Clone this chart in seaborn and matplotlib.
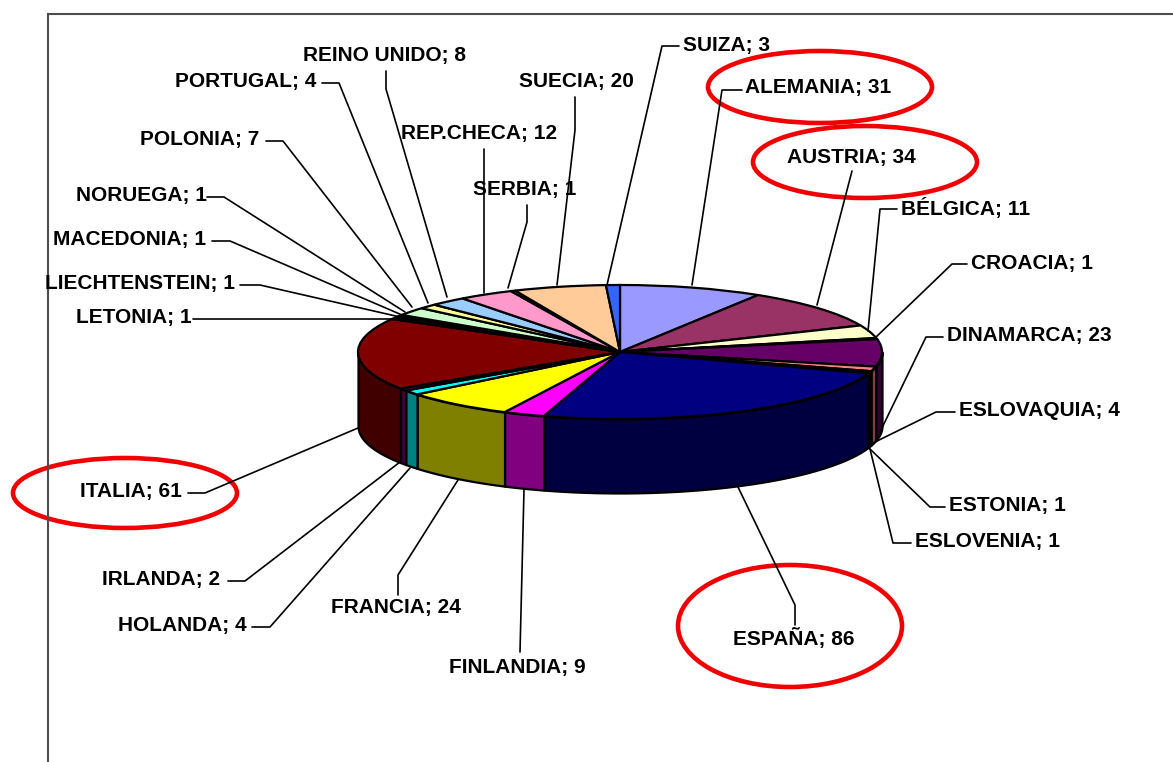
"""
Tarta 3D por paises, dibujada con ax.pie aplastado y paredes laterales.
"""
import numpy as np
import matplotlib
matplotlib.use("Agg")
import matplotlib.pyplot as plt
from matplotlib.patches import Ellipse
from matplotlib.colors import to_rgb
import seaborn as sns

sns.set_style("white")
plt.rcParams["font.family"] = ["Liberation Sans", "DejaVu Sans"]

paises = ["ALEMANIA", "AUSTRIA", "BÉLGICA", "CROACIA", "DINAMARCA", "ESLOVAQUIA",
          "ESLOVENIA", "ESTONIA", "ESPAÑA", "FINLANDIA", "FRANCIA", "HOLANDA",
          "IRLANDA", "ITALIA", "LETONIA", "LIECHTENSTEIN", "MACEDONIA", "NORUEGA",
          "POLONIA", "PORTUGAL", "REINO UNIDO", "REP.CHECA", "SERBIA", "SUECIA", "SUIZA"]
valores = [31, 34, 11, 1, 23, 4, 1, 1, 86, 9, 24, 4, 2, 61, 1, 1, 1, 1, 7, 4, 8, 12, 1, 20, 3]
colores = ["#9999FF", "#993366", "#FFFFCC", "#CCFFFF", "#660066", "#FF8080",
           "#0066CC", "#CCCCFF", "#000080", "#FF00FF", "#FFFF00", "#00FFFF",
           "#800080", "#800000", "#008080", "#0000FF", "#00CCFF", "#CCFFFF",
           "#CCFFCC", "#FFFF99", "#99CCFF", "#FF99CC", "#CC99FF", "#FFCC99", "#3366FF"]

# geometria en pixeles de la imagen
W, H = 1173, 762
CX, CY, RX, RY, FONDO = 620, 352, 262, 67, 74

# posicion del texto (izquierda, centro y) y linea guia
etiquetas = {
    "ALEMANIA": ((745, 88), [(742, 90), (722, 90), (692, 285)]),
    "AUSTRIA": ((787, 158), [(852, 171), (817, 305)]),
    "BÉLGICA": ((901, 208), [(897, 209), (880, 209), (868, 331)]),
    "CROACIA": ((971, 264), [(967, 264), (952, 264), (875, 338)]),
    "DINAMARCA": ((947, 336), [(943, 337), (926, 337), (880, 432)]),
    "ESLOVAQUIA": ((959, 411), [(955, 412), (936, 412), (871, 444)]),
    "ESTONIA": ((949, 506), [(945, 507), (930, 507), (870, 449)]),
    "ESLOVENIA": ((915, 542), [(911, 543), (893, 543), (870, 449)]),
    "ESPAÑA": ((733, 639), [(795, 625), (795, 605), (738, 487)]),
    "FINLANDIA": ((449, 667), [(520, 652), (524, 490)]),
    "FRANCIA": ((331, 608), [(398, 595), (398, 575), (458, 480)]),
    "HOLANDA": ((118, 626), [(252, 627), (270, 627), (410, 468)]),
    "IRLANDA": ((102, 580), [(228, 581), (245, 581), (400, 462)]),
    "ITALIA": ((80, 492), [(188, 493), (205, 493), (358, 428)]),
    "LETONIA": ((76, 318), [(193, 319), (400, 319)]),
    "LIECHTENSTEIN": ((45, 284), [(240, 285), (260, 285), (400, 317)]),
    "MACEDONIA": ((53, 240), [(212, 241), (230, 241), (402, 315)]),
    "NORUEGA": ((76, 195), [(207, 197), (224, 197), (405, 312)]),
    "POLONIA": ((140, 139), [(266, 141), (283, 141), (412, 307)]),
    "PORTUGAL": ((175, 81), [(322, 83), (339, 83), (428, 303)]),
    "REINO UNIDO": ((303, 55), [(386, 71), (386, 89), (447, 297)]),
    "REP.CHECA": ((401, 133), [(484, 149), (484, 293)]),
    "SERBIA": ((473, 190), [(527, 205), (527, 222), (508, 288)]),
    "SUECIA": ((519, 81), [(575, 97), (575, 130), (557, 285)]),
    "SUIZA": ((683, 45), [(679, 46), (662, 46), (607, 285)]),
}
circulos = [(820, 87, 224, 72), (865, 162, 224, 72), (125, 493, 224, 70), (790, 626, 224, 122)]


def main():
    fig = plt.figure(figsize=(W / 100, H / 100), dpi=100, facecolor="white")

    # ejes de la tarta: radio 1 en datos, aplastado al quitar el aspecto igual
    ax = fig.add_axes([0, 0, 1, 1], zorder=1)
    wedges, _ = ax.pie(valores, colors=colores, startangle=90, counterclock=False,
                       wedgeprops={"edgecolor": "black", "linewidth": 1.6})
    ax.set_aspect("auto")
    ax.set_xlim(-CX / RX, (W - CX) / RX)
    ax.set_ylim((CY - H) / RY, CY / RY)
    ax.axis("off")
    prof = FONDO / RY

    # pared lateral: solo la mitad frontal de cada porcion
    for w, color in zip(wedges, colores):
        a1, a2 = sorted((w.theta1, w.theta2))
        a1, a2 = a1 % 360, a1 % 360 + (a2 - a1)
        for desp in (0, 360):
            ini, fin = max(a1, 180 + desp), min(a2, 360 + desp)
            if fin <= ini:
                continue
            t = np.radians(np.linspace(ini, fin, 40))
            oscuro = tuple(c * 0.5 for c in to_rgb(color))
            ax.fill_between(np.cos(t), np.sin(t), np.sin(t) - prof, color=oscuro,
                            edgecolor="black", linewidth=1.6, zorder=0.5)

    # capa en pixeles para marco, textos y guias
    capa = fig.add_axes([0, 0, 1, 1], zorder=2)
    capa.set_xlim(0, W)
    capa.set_ylim(H, 0)
    capa.axis("off")
    capa.plot([47.5, 47.5, W], [H, 13.5, 13.5], color="#4d4d4d", lw=1.5,
              solid_joinstyle="miter")

    for pais, valor in zip(paises, valores):
        (x, y), guia = etiquetas[pais]
        capa.text(x, y, f"{pais}; {valor}", ha="left", va="center", fontsize=15,
                  fontweight="bold", color="black")
        capa.plot(*zip(*guia), color="black", lw=1.2)

    for x, y, ancho, alto in circulos:
        capa.add_patch(Ellipse((x, y), ancho, alto, fill=False, edgecolor="#F00000", lw=3.3))

    fig.savefig("out.png", dpi=100)
    plt.close(fig)


if __name__ == "__main__":
    main()
